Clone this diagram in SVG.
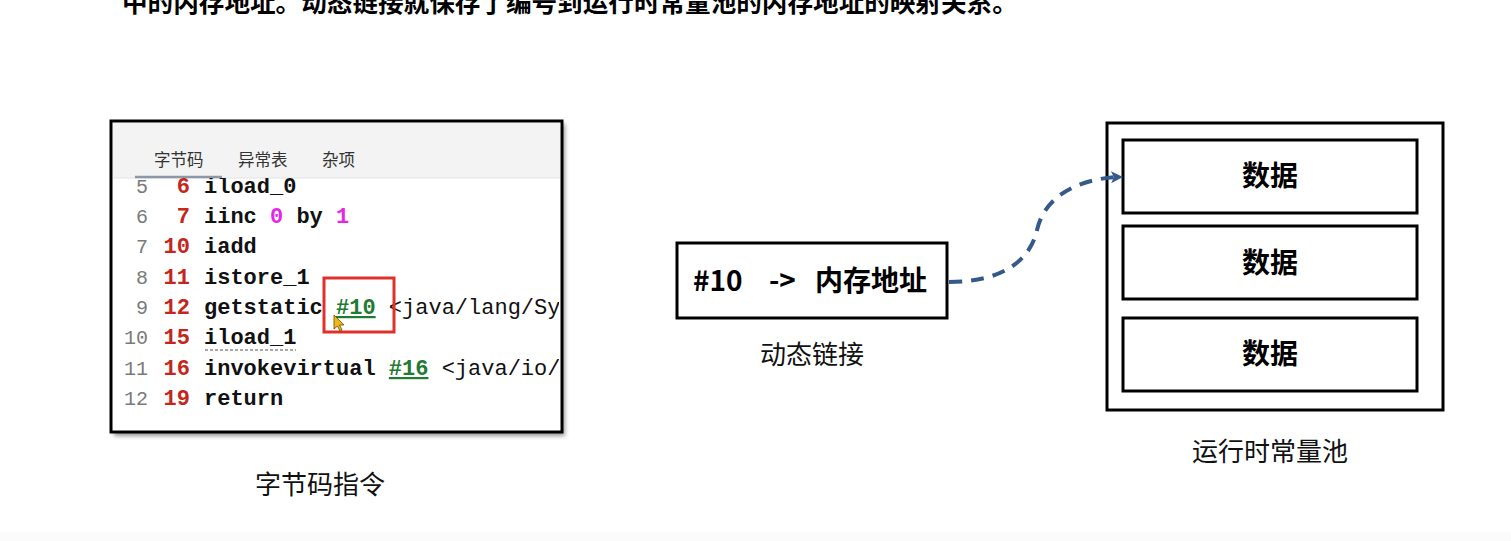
<svg xmlns="http://www.w3.org/2000/svg" width="1511" height="541" viewBox="0 0 1511 541">
<style>
.cjk{font-family:"Noto Sans CJK SC","Noto Sans",sans-serif}
.box{fill:#fff;stroke:#000;stroke-width:3}
.mono{font-family:"Liberation Mono","DejaVu Sans Mono",monospace;font-size:22px}
.ln{fill:#7a7a7a;font-size:20px;font-weight:normal}
.off{fill:#c4261c;font-weight:bold}
.ins{fill:#111;font-weight:bold}
.num{fill:#e626e6;font-weight:bold}
.ref{fill:#1f7a32;font-weight:bold}
.tab{font-size:16.5px;fill:#333}
.lbl{font-size:26px;fill:#111}
.bold{font-weight:bold;fill:#000}
.data{font-size:28px}
</style>
<defs>
<clipPath id="codeclip"><rect x="113" y="178" width="446" height="252"/></clipPath>
<marker id="arr" viewBox="0 0 12 12" refX="10" refY="6" markerWidth="12" markerHeight="12" markerUnits="userSpaceOnUse" orient="auto">
<path d="M0,0 L12,6 L0,12 L3,6 Z" fill="#34598a"/>
</marker>
<filter id="sh" x="-5%" y="-5%" width="110%" height="110%"><feGaussianBlur stdDeviation="2"/></filter>
</defs>
<rect x="0" y="0" width="1511" height="541" fill="#fff"/>
<rect x="0" y="532" width="1511" height="9" fill="#fbfbfb"/>
<text x="122" y="12" class="cjk" font-size="25.6" font-weight="bold" fill="#000">中的内存地址。动态链接就保存了编号到运行时常量池的内存地址的映射关系。</text>

<g id="bytecode">
<rect x="114" y="124" width="451" height="312" fill="#9a9a9a" filter="url(#sh)"/>
<rect x="111" y="121" width="451" height="311" class="box"/>
<rect x="113" y="123" width="447" height="55" fill="#f3f3f3"/>
<line x1="113" y1="178" x2="560" y2="178" stroke="#e2e2e2" stroke-width="1"/>
<line x1="135" y1="177" x2="222" y2="177" stroke="#8c98a8" stroke-width="2.5"/>
<text x="154" y="166" class="cjk tab">字节码</text>
<text x="238" y="166" class="cjk tab">异常表</text>
<text x="322" y="166" class="cjk tab">杂项</text>
<g clip-path="url(#codeclip)" class="mono">
<text x="148" y="193" text-anchor="end" class="ln">5</text><text x="190" y="193" text-anchor="end" class="off">6</text><text x="204" y="193" class="ins">iload_0</text>
<text x="148" y="223" text-anchor="end" class="ln">6</text><text x="190" y="223" text-anchor="end" class="off">7</text><text x="204" y="223" class="ins">iinc <tspan class="num">0</tspan> by <tspan class="num">1</tspan></text>
<text x="148" y="253" text-anchor="end" class="ln">7</text><text x="190" y="253" text-anchor="end" class="off">10</text><text x="204" y="253" class="ins">iadd</text>
<text x="148" y="284" text-anchor="end" class="ln">8</text><text x="190" y="284" text-anchor="end" class="off">11</text><text x="204" y="284" class="ins">istore_1</text>
<text x="148" y="314" text-anchor="end" class="ln">9</text><text x="190" y="314" text-anchor="end" class="off">12</text><text x="204" y="314" class="ins">getstatic <tspan class="ref" text-decoration="underline">#10</tspan> <tspan font-weight="normal">&lt;java/lang/System.out&gt;</tspan></text>
<text x="148" y="344" text-anchor="end" class="ln">10</text><text x="190" y="344" text-anchor="end" class="off">15</text><text x="204" y="344" class="ins">iload_1</text>
<text x="148" y="375" text-anchor="end" class="ln">11</text><text x="190" y="375" text-anchor="end" class="off">16</text><text x="204" y="375" class="ins">invokevirtual <tspan class="ref" text-decoration="underline">#16</tspan> <tspan font-weight="normal">&lt;java/io/PrintStream&gt;</tspan></text>
<text x="148" y="405" text-anchor="end" class="ln">12</text><text x="190" y="405" text-anchor="end" class="off">19</text><text x="204" y="405" class="ins">return</text>
</g>
<line x1="205" y1="350" x2="296" y2="350" stroke="#555" stroke-width="1.2" stroke-dasharray="3 2"/>
<rect x="324" y="278" width="70" height="54" fill="none" stroke="#e0302c" stroke-width="3"/>
<path d="M334,315 L334,329 L337.5,326 L340,331 L342,330 L339.5,325 L344,325 Z" fill="#f2b619" stroke="#6b4a00" stroke-width="0.8"/>
</g>

<g id="dynlink">
<rect x="677" y="243" width="270" height="75" class="box"/>
<text y="291" class="cjk bold data"><tspan x="693">#10</tspan><tspan x="769">-&gt;</tspan><tspan x="815">内存地址</tspan></text>
<text x="812" y="364" text-anchor="middle" class="cjk lbl">动态链接</text>
</g>

<g id="pool">
<rect x="1107" y="123" width="336" height="287" class="box"/>
<g id="data1"><rect x="1123" y="140" width="294" height="73" class="box"/><text x="1270" y="186" text-anchor="middle" class="cjk bold data">数据</text></g>
<g id="data2"><rect x="1123" y="226" width="294" height="73" class="box"/><text x="1270" y="273" text-anchor="middle" class="cjk bold data">数据</text></g>
<g id="data3"><rect x="1123" y="318" width="294" height="73" class="box"/><text x="1270" y="364" text-anchor="middle" class="cjk bold data">数据</text></g>
<text x="1270" y="461" text-anchor="middle" class="cjk lbl">运行时常量池</text>
</g>

<g id="label-bytecode">
<text x="320" y="494" text-anchor="middle" class="cjk lbl">字节码指令</text>
</g>

<g id="connectors">
<path d="M949,282 C1000,282 1030,262 1037,230 C1045,195 1080,178 1121,177" fill="none" stroke="#34598a" stroke-width="4" stroke-dasharray="13 9" marker-end="url(#arr)"/>
</g>
</svg>
